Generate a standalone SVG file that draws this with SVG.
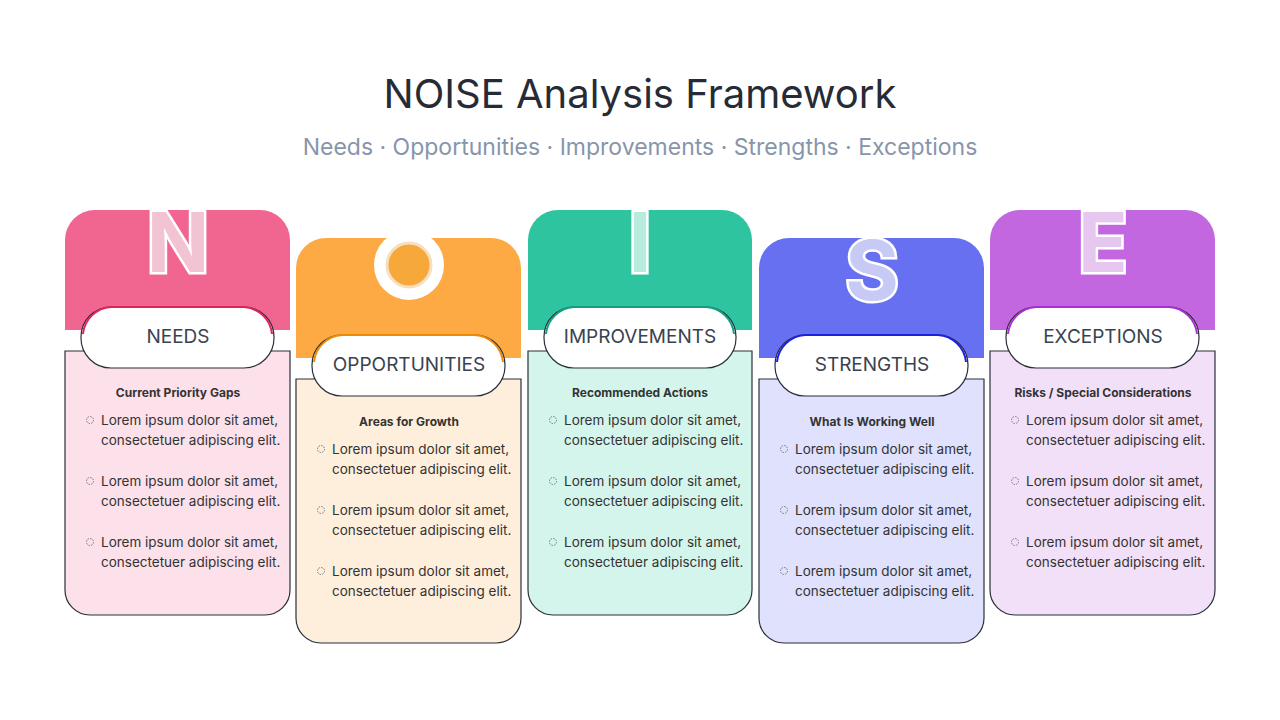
<svg xmlns="http://www.w3.org/2000/svg" width="1280" height="720" viewBox="0 0 1280 720">
<style>
text{font-family:"Inter","Noto Sans","Liberation Sans",sans-serif}
.t{font-size:40px;fill:#262b36;text-anchor:middle}
.st{font-size:23px;fill:#8795ab;text-anchor:middle}
.pill{fill:#fff;stroke:#2a2f3a;stroke-width:1.2}
.body{stroke:#2a2f3a;stroke-width:1.2}
.lbl{font-size:19px;fill:#3a4250;text-anchor:middle}
.h{font-size:12px;font-weight:700;fill:#333;text-anchor:middle}
.b{font-size:13.5px;fill:#333}
.bul{fill:none;stroke:#777;stroke-width:1;stroke-dasharray:1.5 1.2}
.big{font-size:82px;font-weight:700;text-anchor:middle;stroke:#fff;stroke-width:5;paint-order:stroke}
</style>
<defs>
<g id="items">
<circle class="bul" cx="25" cy="0" r="3.5"/>
<text class="b" x="36" y="5">Lorem ipsum dolor sit amet,</text>
<text class="b" x="36" y="25">consectetuer adipiscing elit.</text>
<circle class="bul" cx="25" cy="61" r="3.5"/>
<text class="b" x="36" y="66">Lorem ipsum dolor sit amet,</text>
<text class="b" x="36" y="86">consectetuer adipiscing elit.</text>
<circle class="bul" cx="25" cy="122" r="3.5"/>
<text class="b" x="36" y="127">Lorem ipsum dolor sit amet,</text>
<text class="b" x="36" y="147">consectetuer adipiscing elit.</text>
</g>
</defs>
<rect width="1280" height="720" fill="#fff"/>
<text class="t" x="640" y="108">NOISE Analysis Framework</text>
<text class="st" x="640" y="155">Needs · Opportunities · Improvements · Strengths · Exceptions</text>

<g id="needs" transform="translate(65,0)">
<path d="M0,330 V240 a30 30 0 0 1 30 -30 H195 a30 30 0 0 1 30 30 V330 Z" fill="#F06690"/>
<text class="big" x="113" y="272" fill="#f2c3d3">N</text>
<path class="body" d="M0,351 H225 V590 a25 25 0 0 1 -25 25 H25 a25 25 0 0 1 -25 -25 Z" fill="#FCE0EA"/>
<rect class="pill" x="16" y="307" width="193" height="61" rx="30"/>
<path d="M18,334 a30 30 0 0 1 28 -27 H179 a30 30 0 0 1 28 27" fill="none" stroke="#E0245E" stroke-width="2"/>
<text class="lbl" x="113" y="343">NEEDS</text>
<text class="h" x="113" y="397">Current Priority Gaps</text>
<use href="#items" y="420"/>
</g>

<g id="opportunities" transform="translate(296,0)">
<path d="M0,358 V268 a30 30 0 0 1 30 -30 H195 a30 30 0 0 1 30 30 V358 Z" fill="#FDAA45"/>
<circle cx="113" cy="265" r="35" fill="#fff"/>
<circle cx="113" cy="265" r="22" fill="#F7A83A" stroke="#f5dfbd" stroke-width="3"/>
<path class="body" d="M0,379 H225 V618 a25 25 0 0 1 -25 25 H25 a25 25 0 0 1 -25 -25 Z" fill="#FEEFDC"/>
<rect class="pill" x="16" y="335" width="193" height="61" rx="30"/>
<path d="M18,362 a30 30 0 0 1 28 -27 H179 a30 30 0 0 1 28 27" fill="none" stroke="#F08A00" stroke-width="2"/>
<text class="lbl" x="113" y="371">OPPORTUNITIES</text>
<text class="h" x="113" y="426">Areas for Growth</text>
<use href="#items" y="449"/>
</g>

<g id="improvements" transform="translate(528,0)">
<path d="M0,330 V240 a30 30 0 0 1 30 -30 H194 a30 30 0 0 1 30 30 V330 Z" fill="#2EC4A0"/>
<text class="big" x="112" y="272" fill="#b7ecdd">I</text>
<path class="body" d="M0,351 H224 V590 a25 25 0 0 1 -25 25 H25 a25 25 0 0 1 -25 -25 Z" fill="#D4F5EC"/>
<rect class="pill" x="16" y="307" width="192" height="61" rx="30"/>
<path d="M18,334 a30 30 0 0 1 28 -27 H178 a30 30 0 0 1 28 27" fill="none" stroke="#14a080" stroke-width="2"/>
<text class="lbl" x="112" y="343">IMPROVEMENTS</text>
<text class="h" x="112" y="397">Recommended Actions</text>
<use href="#items" y="420"/>
</g>

<g id="strengths" transform="translate(759,0)">
<path d="M0,358 V268 a30 30 0 0 1 30 -30 H195 a30 30 0 0 1 30 30 V358 Z" fill="#6770F0"/>
<text class="big" x="113" y="300" fill="#c7caf5">S</text>
<path class="body" d="M0,379 H225 V618 a25 25 0 0 1 -25 25 H25 a25 25 0 0 1 -25 -25 Z" fill="#E0E1FC"/>
<rect class="pill" x="16" y="335" width="193" height="61" rx="30"/>
<path d="M18,362 a30 30 0 0 1 28 -27 H179 a30 30 0 0 1 28 27" fill="none" stroke="#1a22e0" stroke-width="2"/>
<text class="lbl" x="113" y="371">STRENGTHS</text>
<text class="h" x="113" y="426">What Is Working Well</text>
<use href="#items" y="449"/>
</g>

<g id="exceptions" transform="translate(990,0)">
<path d="M0,330 V240 a30 30 0 0 1 30 -30 H195 a30 30 0 0 1 30 30 V330 Z" fill="#C267DF"/>
<text class="big" x="113" y="272" fill="#e6c7f0">E</text>
<path class="body" d="M0,351 H225 V590 a25 25 0 0 1 -25 25 H25 a25 25 0 0 1 -25 -25 Z" fill="#F2E0F8"/>
<rect class="pill" x="16" y="307" width="193" height="61" rx="30"/>
<path d="M18,334 a30 30 0 0 1 28 -27 H179 a30 30 0 0 1 28 27" fill="none" stroke="#a830d0" stroke-width="2"/>
<text class="lbl" x="113" y="343">EXCEPTIONS</text>
<text class="h" x="113" y="397">Risks / Special Considerations</text>
<use href="#items" y="420"/>
</g>
<g id="connectors"/>
</svg>
